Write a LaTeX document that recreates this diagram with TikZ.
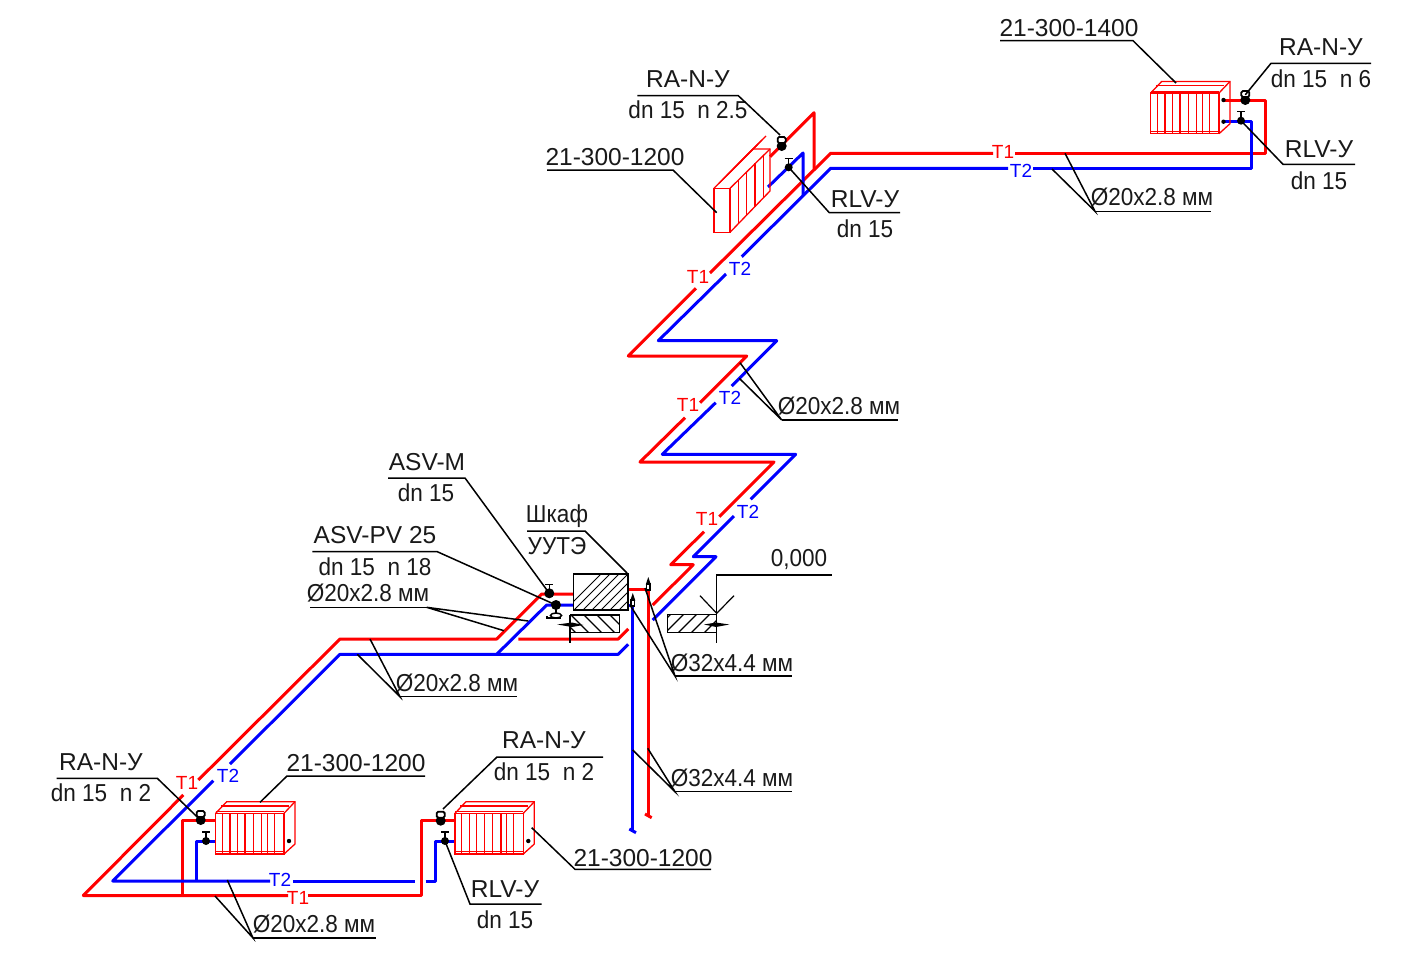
\documentclass[tikz,border=0pt]{standalone}
\usepackage{fontspec}
\setmainfont{Liberation Sans}
\newfontfamily\narrowfont[FakeStretch=0.92]{Liberation Sans}
\usetikzlibrary{positioning}

\begin{document}
\begin{tikzpicture}[x=1pt,y=-1pt,
	t1pipe/.style={draw=red,line width=3pt,line join=round},
	t2pipe/.style={draw=blue,line width=3pt,line join=round},
	leader/.style={draw=black,line width=1.5pt},
	rad/.style={draw=red,line width=1.3pt},
	lbl/.style={font=\fontsize{24.5}{28}\selectfont,inner sep=0pt,text=black!90},
	nlbl/.style={font=\narrowfont\fontsize{24.5}{28}\selectfont,inner sep=0pt,text=black!90},
	t1lbl/.style={font=\fontsize{19}{22}\selectfont,inner sep=0pt,text=red},
	t2lbl/.style={font=\fontsize{19}{22}\selectfont,inner sep=0pt,text=blue},
	ballvalve/.style={circle,fill=black,inner sep=0pt,minimum size=10pt},
	stopvalve/.style={circle,fill=black,inner sep=0pt,minimum size=8pt}]

	\useasboundingbox (0,0) rectangle (1416,954);

	% Supply %
	\draw [t1pipe] (814,170) -- (814,112.7) -- (770,156.7);
	\draw [t1pipe] (1015,153.3) -- (1265,153.3) -- (1265,100) -- (1223,100);
	\draw [t1pipe] (993,153.3) -- (830.7,153.3) -- (710,273);
	\draw [t1pipe] (696,288.3) -- (628.3,356) -- (746.7,356) -- (700,402.7);
	\draw [t1pipe] (685,417.7) -- (640,462) -- (774,462) -- (719.3,516.7);
	\draw [t1pipe] (704,531.7) -- (670.7,564.7) -- (693.3,564.7) -- (652.7,605);
	\draw [t1pipe] (573.3,594) -- (541.7,594) -- (496.7,639) -- (340,639) -- (198.3,780);
	\draw [t1pipe] (518.3,639) -- (618.3,639) -- (628.3,629);
	\draw [t1pipe] (628,589.3) -- (648.3,589.3) -- (648.3,815);
	\draw [t1pipe] (645,814) -- (651.7,817.7);
	\draw [t1pipe] (183.3,795) -- (83.3,895.5) -- (288,895.5);
	\draw [t1pipe] (308,895.5) -- (421.7,895.5) -- (421.7,820.7) -- (455,820.7);
	\draw [t1pipe] (182.3,895.5) -- (182.3,820.7) -- (215.7,820.7);

	% Return %
	\draw [t2pipe] (803,195) -- (803,153) -- (768,187);
	\draw [t2pipe] (1033,168.3) -- (1251.7,168.3) -- (1251.7,121.7) -- (1223,121.7);
	\draw [t2pipe] (1008,168.3) -- (830.7,168.3) -- (741.7,256.7);
	\draw [t2pipe] (726,274) -- (658.3,340.7) -- (776.7,340.7) -- (731.7,386);
	\draw [t2pipe] (715.7,402.7) -- (662.3,454.3) -- (795.7,454.3) -- (750.7,499.3);
	\draw [t2pipe] (734,516) -- (693.3,556.7) -- (716,556.7) -- (652.7,620);
	\draw [t2pipe] (573.3,605) -- (546.7,605) -- (496.7,654.3);
	\draw [t2pipe] (628.3,644.3) -- (618.3,654.3) -- (340,654.3) -- (230,764);
	\draw [t2pipe] (628,605) -- (632.8,605) -- (632.8,830);
	\draw [t2pipe] (629.3,829) -- (636,832.7);
	\draw [t2pipe] (213.3,780.7) -- (112.7,881) -- (270,881);
	\draw [t2pipe] (293,881) -- (415,881);
	\draw [t2pipe] (425.7,881) -- (435,881) -- (435,841) -- (455,841);
	\draw [t2pipe] (196,881) -- (196,841) -- (215.7,841);

	% Radiators %
	\foreach \dx/\dy in {0/0, 239.3/0, 935/-720.3} {
		\begin{scope}[shift={(\dx,\dy)}]
			\draw [rad] (215.7,813.3) rectangle (284,854);
			\draw [rad] (215.7,811.5) -- (284,811.5);
			\draw [rad] (215.7,851.5) -- (284,851.5);
			\draw [rad] (215.7,813.3) -- (226.7,801.7) -- (295,801.7) -- (295,844) -- (284,854);
			\draw [rad] (284,813.3) -- (295,801.7);
			\draw [rad] (221,806) -- (289,806);
			\foreach \x in {6.7, 14.3, 21.7, 29.3, 37.7, 46, 51.7, 58.7}
				\draw [rad] (215.7+\x,813.3) -- (215.7+\x,854);
		\end{scope}
	}
	\draw [rad] (714,188.3) rectangle (730,232.3);
	\draw [rad] (714,188.3) -- (753,149) -- (770,149) -- (770,191) -- (730,232.3);
	\draw [rad] (730,188.3) -- (770,149);
	\foreach \x in {719, 723, 727}
		\draw [rad] (\x,188.3-\x+714) -- (\x+39,149-\x+714);
	\foreach \x in {738.3, 746.7, 755, 763.3}
		\draw [rad] (\x,{188.3-\x+730}) -- (\x,{232.3-1.03*(\x-730)});
	\foreach \x/\y in {289/841, 528.3/841, 1223.5/100, 1223.5/121.7}
		\fill (\x,\y) circle (2.2pt);

	% Valves %
	\node [ballvalve] (vRadTop) at (1245.3,100) {};
	\node [stopvalve] (sRadTop) at (1241,120.7) {};
	\node [ballvalve] (vRadMid) at (781.7,146) {};
	\node [stopvalve] (sRadMid) at (788.7,167.3) {};
	\node [ballvalve] (vRadLeft) at (200.7,820) {};
	\node [stopvalve] (sRadLeft) at (206,841) {};
	\node [ballvalve] (vRadRight) at (440.7,820.7) {};
	\node [stopvalve] (sRadRight) at (445,841) {};
	\node [ballvalve] (vAsvM) at (549.3,593.3) {};
	\node [ballvalve] (vAsvPv) at (556,605) {};
	\foreach \v in {vRadTop, vRadMid, vRadLeft, vRadRight}
		\draw [fill=white,line width=1.8pt,rounded corners=1.5pt] ([shift={(-4,-9)}]\v.center) rectangle ([shift={(4,-3)}]\v.center);
	\foreach \v in {sRadTop, sRadMid, sRadLeft, sRadRight, vAsvM}
		\draw [line width=1.3pt] (\v.center) -- ++(0,-9) ++(-4,0) -- ++(8,0);
	\draw [line width=1.3pt] (vAsvPv.center) -- ++(0,8);
	\draw [fill=white,line width=1.5pt] (556,615.5) ellipse (5.5pt and 2.5pt);
	\fill (545.5,615.5) rectangle (548,619);
	\draw [line width=1.3pt] (546,618) -- (561,618);

	% Riser valves %
	\foreach \x/\y in {648.3/584, 632.8/600}{
		\draw [fill=white,line width=1.5pt] (\x-1.7,\y) rectangle (\x+1.7,\y+6);
		\fill (\x-2.5,\y+.5) -- (\x,\y-7) -- (\x+2.5,\y+.5) -- cycle;
	}

	% Cabinet %
	\begin{scope}
		\clip (573.3,574) rectangle (628,610);
		\foreach \x in {560, 569, ..., 680}
			\draw [line width=1pt] (\x,615) -- (\x+45,570);
	\end{scope}
	\draw [line width=1.5pt] (573.3,574) rectangle (628,610);

	% Floor %
	\begin{scope}
		\clip (570.7,615) rectangle (619.3,632.3);
		\foreach \x in {540, 553, ..., 620}
			\draw [line width=1.1pt] (\x,610) -- (\x+25,635);
	\end{scope}
	\draw [line width=1.3pt] (570,615) -- (619.3,615) -- (619.3,632.3) -- (570,632.3);
	\draw [line width=1.5pt] (570,615) -- (570,643);
	\fill (557.3,624.5) -- (572,622.5) -- (583.3,625) -- (572,627) -- cycle;
	\begin{scope}
		\clip (667.3,614.3) rectangle (716.7,632.3);
		\foreach \x in {650, 663, ..., 720}
			\draw [line width=1.1pt] (\x,635) -- (\x+25,610);
	\end{scope}
	\draw [line width=1.3pt] (716.7,614.3) -- (667.3,614.3) -- (667.3,632.3) -- (716.7,632.3);
	\draw [line width=1.5pt] (831.7,575) -- (716.7,575) -- (716.7,643);
	\draw [line width=1.2pt] (700,595.7) -- (716.7,613.3) -- (734,595.7);
	\fill (704,624.5) -- (716,622.5) -- (729.3,624.5) -- (716,627) -- cycle;

	% Pipe marks %
	\foreach \n/\x/\y in {a/1003/152, b/698/277, c/688/405, d/707/519, e/187/783, f/298/898}
		\node [t1lbl] (tone\n) at (\x,\y) {T1};
	\foreach \n/\x/\y in {a/1021/171, b/740/269, c/730/398, d/748/512, e/228/776, f/280/880}
		\node [t2lbl] (ttwo\n) at (\x,\y) {T2};

	% Labels, top right %
	\node [lbl] (radTopA) at (1069,28) {21-300-1400};
	\draw [leader] (1000,40.7) -- (1133,40.7) -- (1176,83);
	\node [lbl] (raTopA) at (1321,47) {RA-N-У};
	\node [nlbl] (raTopB) at (1321,79) {dn 15\ \ n 6};
	\draw [leader] (1371,63.3) -- (1271,63.3) -- (vRadTop.north);
	\node [lbl] (rlvTopA) at (1319,149) {RLV-У};
	\node [nlbl] (rlvTopB) at (1319,181) {dn 15};
	\draw [leader] (1355,164.3) -- (1283,164.3) -- (sRadTop.center);
	\node [nlbl] (dimTop) at (1152,197) {Ø20x2.8 мм};
	\draw [leader] (1065,153.3) -- (1095,211.3) -- (1052,169);
	\draw [leader] (1095,211.3) -- (1211,211.3);

	% Labels, top middle %
	\node [lbl] (raMidA) at (688,79) {RA-N-У};
	\node [nlbl] (raMidB) at (688,110) {dn 15\ \ n 2.5};
	\draw [leader] (637.3,95.7) -- (738.3,95.7) -- (780,135);
	\node [lbl] (radMidA) at (615,157) {21-300-1200};
	\draw [leader] (547,170) -- (673,170) -- (716.7,212.7);
	\node [lbl] (rlvMidA) at (865,199) {RLV-У};
	\node [nlbl] (rlvMidB) at (865,229) {dn 15};
	\draw [leader] (900,212.7) -- (829.3,212.7) -- (sRadMid.center);
	\node [nlbl] (dimMid) at (839,406) {Ø20x2.8 мм};
	\draw [leader] (740,362.7) -- (781.7,420) -- (739.3,378.3);
	\draw [leader] (781.7,420) -- (898.3,420);

	% Labels, centre %
	\node [nlbl] (zeroMark) at (799,560) {0,000};
	\node [lbl] (asvMA) at (427,462) {ASV-M};
	\node [nlbl] (asvMB) at (426,493) {dn 15};
	\draw [leader] (388,478) -- (465,478) -- (vAsvM.center);
	\node [lbl] (asvPvA) at (375,535) {ASV-PV 25};
	\node [nlbl] (asvPvB) at (375,567) {dn 15\ \ n 18};
	\draw [leader] (312.3,551.7) -- (437.3,551.7) -- (vAsvPv.center);
	\node [nlbl] (dimAsv) at (368,593) {Ø20x2.8 мм};
	\draw [leader] (504,630.7) -- (426.7,607.3) -- (528.3,621);
	\draw [leader] (426.7,607.3) -- (310,607.3);
	\node [nlbl] (cabA) at (557,516) {Шкаф};
	\node [nlbl] (cabB) at (557,546) {УУТЭ};
	\draw [leader] (527,531) -- (585,531) -- (627,573);
	\node [nlbl] (dimMain) at (457,683) {Ø20x2.8 мм};
	\draw [leader] (370,639) -- (400,696.7) -- (357.3,654.3);
	\draw [leader] (400,696.7) -- (516.7,696.7);
	\node [nlbl] (dimRiserA) at (732,663) {Ø32x4.4 мм};
	\draw [leader] (645,588) -- (675,676) -- (630,605);
	\draw [leader] (675,676) -- (792.3,676);
	\node [nlbl] (dimRiserB) at (732,778) {Ø32x4.4 мм};
	\draw [leader] (647.7,748.3) -- (675,791.7) -- (632.7,750);
	\draw [leader] (675,791.7) -- (792.3,791.7);

	% Labels, bottom %
	\node [lbl] (raLeftA) at (101,762) {RA-N-У};
	\node [nlbl] (raLeftB) at (101,793) {dn 15\ \ n 2};
	\draw [leader] (56.7,778.3) -- (157.3,778.3) -- (198.3,818);
	\node [lbl] (radLeftA) at (356,763) {21-300-1200};
	\draw [leader] (425,776) -- (287,776) -- (260,802.3);
	\node [lbl] (raRightA) at (544,740) {RA-N-У};
	\node [nlbl] (raRightB) at (544,772) {dn 15\ \ n 2};
	\draw [leader] (603,757) -- (497,757) -- (443,809);
	\node [lbl] (rlvRightA) at (505,889) {RLV-У};
	\node [nlbl] (rlvRightB) at (505,920) {dn 15};
	\draw [leader] (541.7,904) -- (470,904) -- (sRadRight.center);
	\node [lbl] (radRightA) at (643,858) {21-300-1200};
	\draw [leader] (531.7,827.7) -- (575,869.3) -- (711,869.3);
	\node [nlbl] (dimBottom) at (314,924) {Ø20x2.8 мм};
	\draw [leader] (215,896) -- (253,938) -- (227.3,880);
	\draw [leader] (253,938) -- (376,938);
\end{tikzpicture}
\end{document}
